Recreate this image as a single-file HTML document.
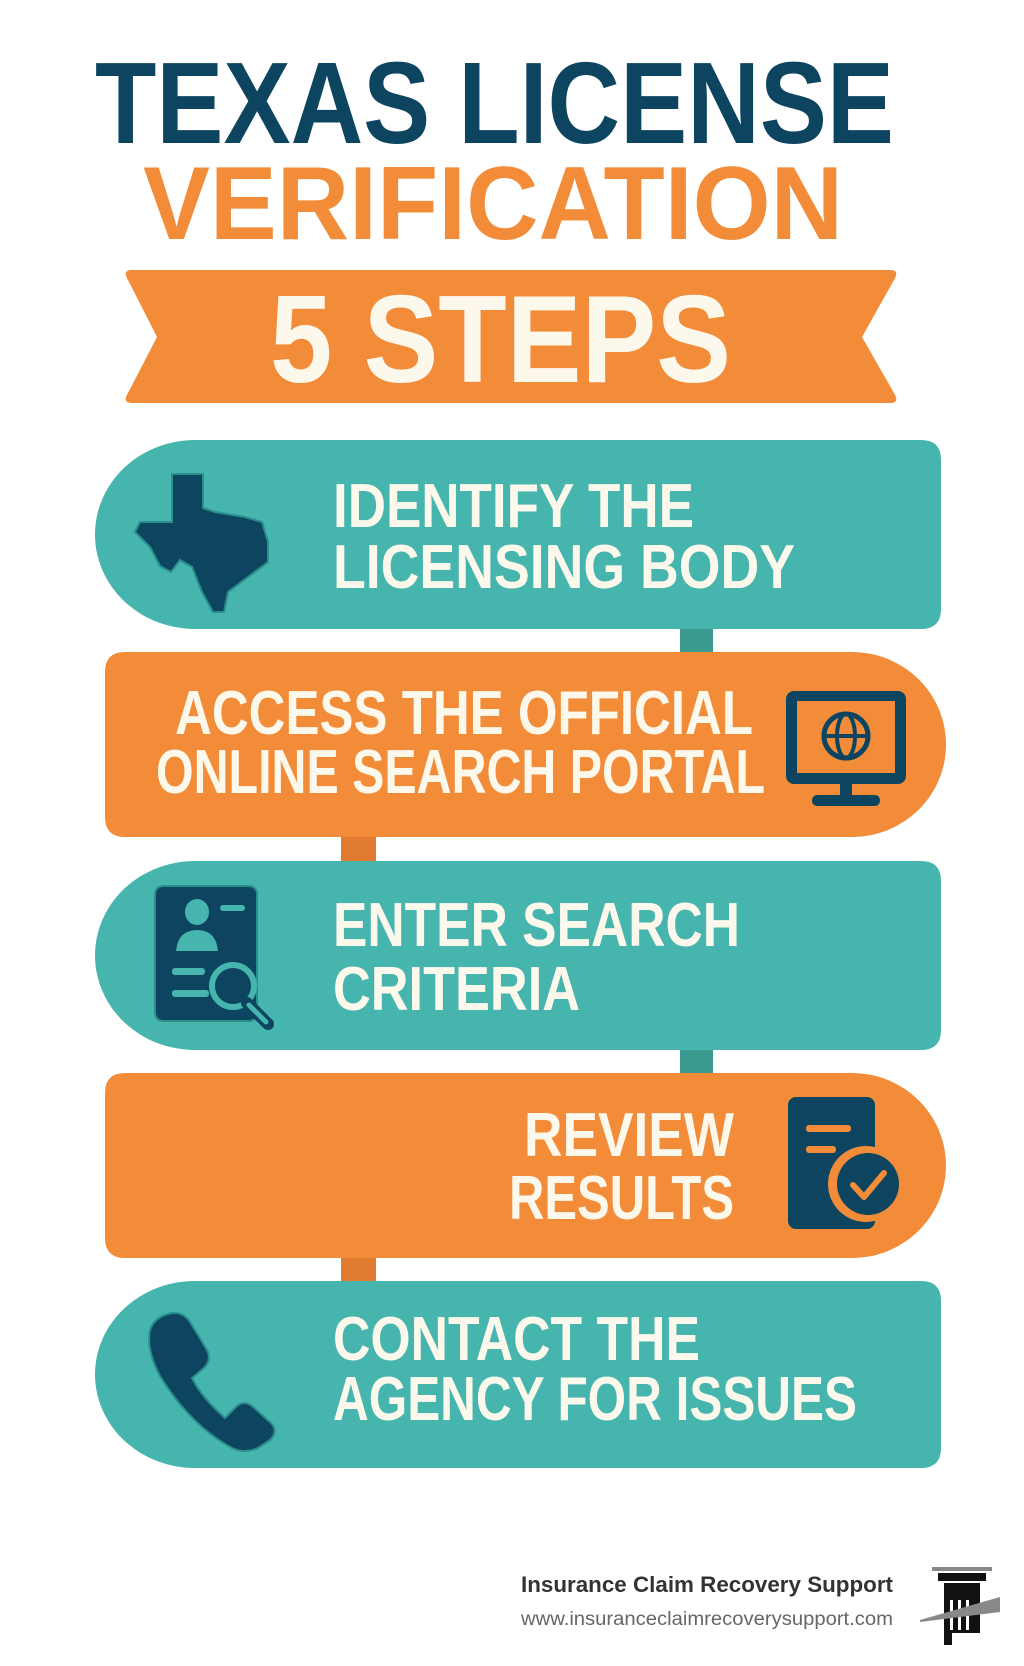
<!DOCTYPE html>
<html><head><meta charset="utf-8"><style>
html,body{margin:0;padding:0;background:#fff;}
svg{display:block;}
text{font-family:"Liberation Sans",sans-serif;font-weight:bold;}
</style></head><body>
<svg width="1024" height="1666" viewBox="0 0 1024 1666" xmlns="http://www.w3.org/2000/svg">
<rect width="1024" height="1666" fill="#fff"/>
<!-- Title -->
<text x="95" y="143" font-size="116" fill="#0d4560" textLength="799" lengthAdjust="spacingAndGlyphs">TEXAS LICENSE</text>
<text x="143" y="239" font-size="104" fill="#f28c38" textLength="700" lengthAdjust="spacingAndGlyphs">VERIFICATION</text>
<!-- Banner -->
<path d="M132,270 H890 Q900,270 894,280 L862,337 L894,393 Q900,403 890,403 H132 Q122,403 128,393 L157,337 L128,280 Q122,270 132,270 Z" fill="#f28c38"/>
<text x="270" y="382" font-size="124" fill="#fdf8ec" textLength="461" lengthAdjust="spacingAndGlyphs">5 STEPS</text>

<!-- connectors -->
<rect x="680" y="626" width="33" height="30" fill="#3a9a90"/>
<rect x="341" y="834" width="35" height="30" fill="#e07a30"/>
<rect x="680" y="1047" width="33" height="30" fill="#3a9a90"/>
<rect x="341" y="1255" width="35" height="30" fill="#e07a30"/>

<!-- Box1 -->
<path d="M195,440 H921 Q941,440 941,460 V609 Q941,629 921,629 H195 A100 94.5 0 0 1 195,440 Z" fill="#45b5ad"/>
<!-- Box2 -->
<path d="M125,652 H852 A94 92.5 0 0 1 852,837 H125 Q105,837 105,817 V672 Q105,652 125,652 Z" fill="#f28c38"/>
<!-- Box3 -->
<path d="M195,861 H921 Q941,861 941,881 V1030 Q941,1050 921,1050 H195 A100 94.5 0 0 1 195,861 Z" fill="#45b5ad"/>
<!-- Box4 -->
<path d="M125,1073 H852 A94 92.5 0 0 1 852,1258 H125 Q105,1258 105,1238 V1093 Q105,1073 125,1073 Z" fill="#f28c38"/>
<!-- Box5 -->
<path d="M195,1281 H921 Q941,1281 941,1301 V1448 Q941,1468 921,1468 H195 A100 93.5 0 0 1 195,1281 Z" fill="#45b5ad"/>

<g fill="#fdf8ec" font-size="62">
<text x="333" y="527" textLength="361" lengthAdjust="spacingAndGlyphs">IDENTIFY THE</text>
<text x="333" y="588" textLength="462" lengthAdjust="spacingAndGlyphs">LICENSING BODY</text>
<text x="175" y="734" textLength="578" lengthAdjust="spacingAndGlyphs">ACCESS THE OFFICIAL</text>
<text x="156" y="793" textLength="609" lengthAdjust="spacingAndGlyphs">ONLINE SEARCH PORTAL</text>
<text x="333" y="946" textLength="407" lengthAdjust="spacingAndGlyphs">ENTER SEARCH</text>
<text x="333" y="1010" textLength="247" lengthAdjust="spacingAndGlyphs">CRITERIA</text>
<text x="524" y="1156" textLength="210" lengthAdjust="spacingAndGlyphs">REVIEW</text>
<text x="509" y="1219" textLength="225" lengthAdjust="spacingAndGlyphs">RESULTS</text>
<text x="333" y="1360" textLength="367" lengthAdjust="spacingAndGlyphs">CONTACT THE</text>
<text x="333" y="1420" textLength="524" lengthAdjust="spacingAndGlyphs">AGENCY FOR ISSUES</text>
</g>

<!-- Texas icon -->
<path d="M172,474 H203 V508 L215,512 L245,517 L262,522 L268,542 L268,562 L248,577 L228,592 L224,612 L213,612 L202,592 L192,567 L180,560 L171,572 L160,566 L150,547 L135,532 L140,522 L172,522 Z" fill="#0d4560" stroke="#2a8e8a" stroke-width="2"/>
<!-- Monitor icon -->
<rect x="786" y="691" width="120" height="93" rx="8" fill="#0d4560"/>
<rect x="797" y="701" width="98" height="72" fill="#f28c38"/>
<circle cx="846" cy="736" r="22" fill="none" stroke="#0d4560" stroke-width="5"/>
<ellipse cx="846" cy="736" rx="9" ry="22" fill="none" stroke="#0d4560" stroke-width="4"/>
<line x1="824" y1="736" x2="868" y2="736" stroke="#0d4560" stroke-width="4"/>
<rect x="840" y="784" width="12" height="14" fill="#0d4560"/>
<rect x="812" y="795" width="68" height="11" rx="5" fill="#0d4560"/>
<!-- Search doc icon -->
<rect x="155" y="886" width="102" height="135" rx="8" fill="#0d4560" stroke="#2a8e8a" stroke-width="2"/>
<ellipse cx="197" cy="912" rx="12" ry="13" fill="#45b5ad"/>
<path d="M176,951 Q178,930 197,930 Q216,930 218,951 Z" fill="#45b5ad"/>
<rect x="220" y="905" width="25" height="6" rx="3" fill="#45b5ad"/>
<rect x="172" y="968" width="33" height="7" rx="3" fill="#45b5ad"/>
<rect x="172" y="990" width="37" height="7" rx="3" fill="#45b5ad"/>
<circle cx="233" cy="986" r="21" fill="#0d4560" stroke="#45b5ad" stroke-width="6"/>
<line x1="247" y1="1003" x2="268" y2="1024" stroke="#0d4560" stroke-width="12" stroke-linecap="round"/>
<line x1="249" y1="1005" x2="266" y2="1022" stroke="#45b5ad" stroke-width="5" stroke-linecap="round"/>
<!-- Review doc icon -->
<rect x="788" y="1097" width="87" height="132" rx="8" fill="#0d4560"/>
<rect x="806" y="1125" width="45" height="7" rx="3" fill="#f28c38"/>
<rect x="806" y="1146" width="30" height="7" rx="3" fill="#f28c38"/>
<circle cx="866" cy="1184" r="38" fill="#f28c38"/>
<circle cx="868" cy="1184" r="31" fill="#0d4560"/>
<path d="M853,1185 L864,1197 L884,1173" fill="none" stroke="#f28c38" stroke-width="6" stroke-linecap="round" stroke-linejoin="round"/>
<!-- Phone icon -->
<path d="M168,1314 Q182,1310 190,1322 L207,1350 Q212,1360 204,1368 L192,1378 Q202,1398 225,1418 L237,1406 Q244,1400 252,1406 L272,1424 Q278,1432 270,1440 L258,1448 Q245,1454 232,1448 Q190,1425 160,1376 Q146,1350 150,1330 Q154,1318 168,1314 Z" fill="#0d4560" stroke="#2a8e8a" stroke-width="2"/>

<!-- Footer -->
<text x="521" y="1592" font-size="22" fill="#333" textLength="372" lengthAdjust="spacingAndGlyphs">Insurance Claim Recovery Support</text>
<text x="521" y="1625" font-size="19" font-weight="normal" fill="#666" style="font-weight:normal" textLength="372" lengthAdjust="spacingAndGlyphs">www.insuranceclaimrecoverysupport.com</text>
<!-- Logo -->
<rect x="932" y="1567" width="60" height="4" fill="#888"/>
<rect x="938" y="1573" width="48" height="8" fill="#111"/>
<rect x="944" y="1583" width="36" height="50" fill="#111"/>
<rect x="950" y="1600" width="3" height="30" fill="#fff"/>
<rect x="958" y="1600" width="3" height="30" fill="#fff"/>
<rect x="966" y="1600" width="3" height="30" fill="#fff"/>
<rect x="944" y="1633" width="8" height="12" fill="#111"/>
<path d="M920,1620 L1000,1597 V1612 L920,1622 Z" fill="#888"/>
</svg>
</body></html>
